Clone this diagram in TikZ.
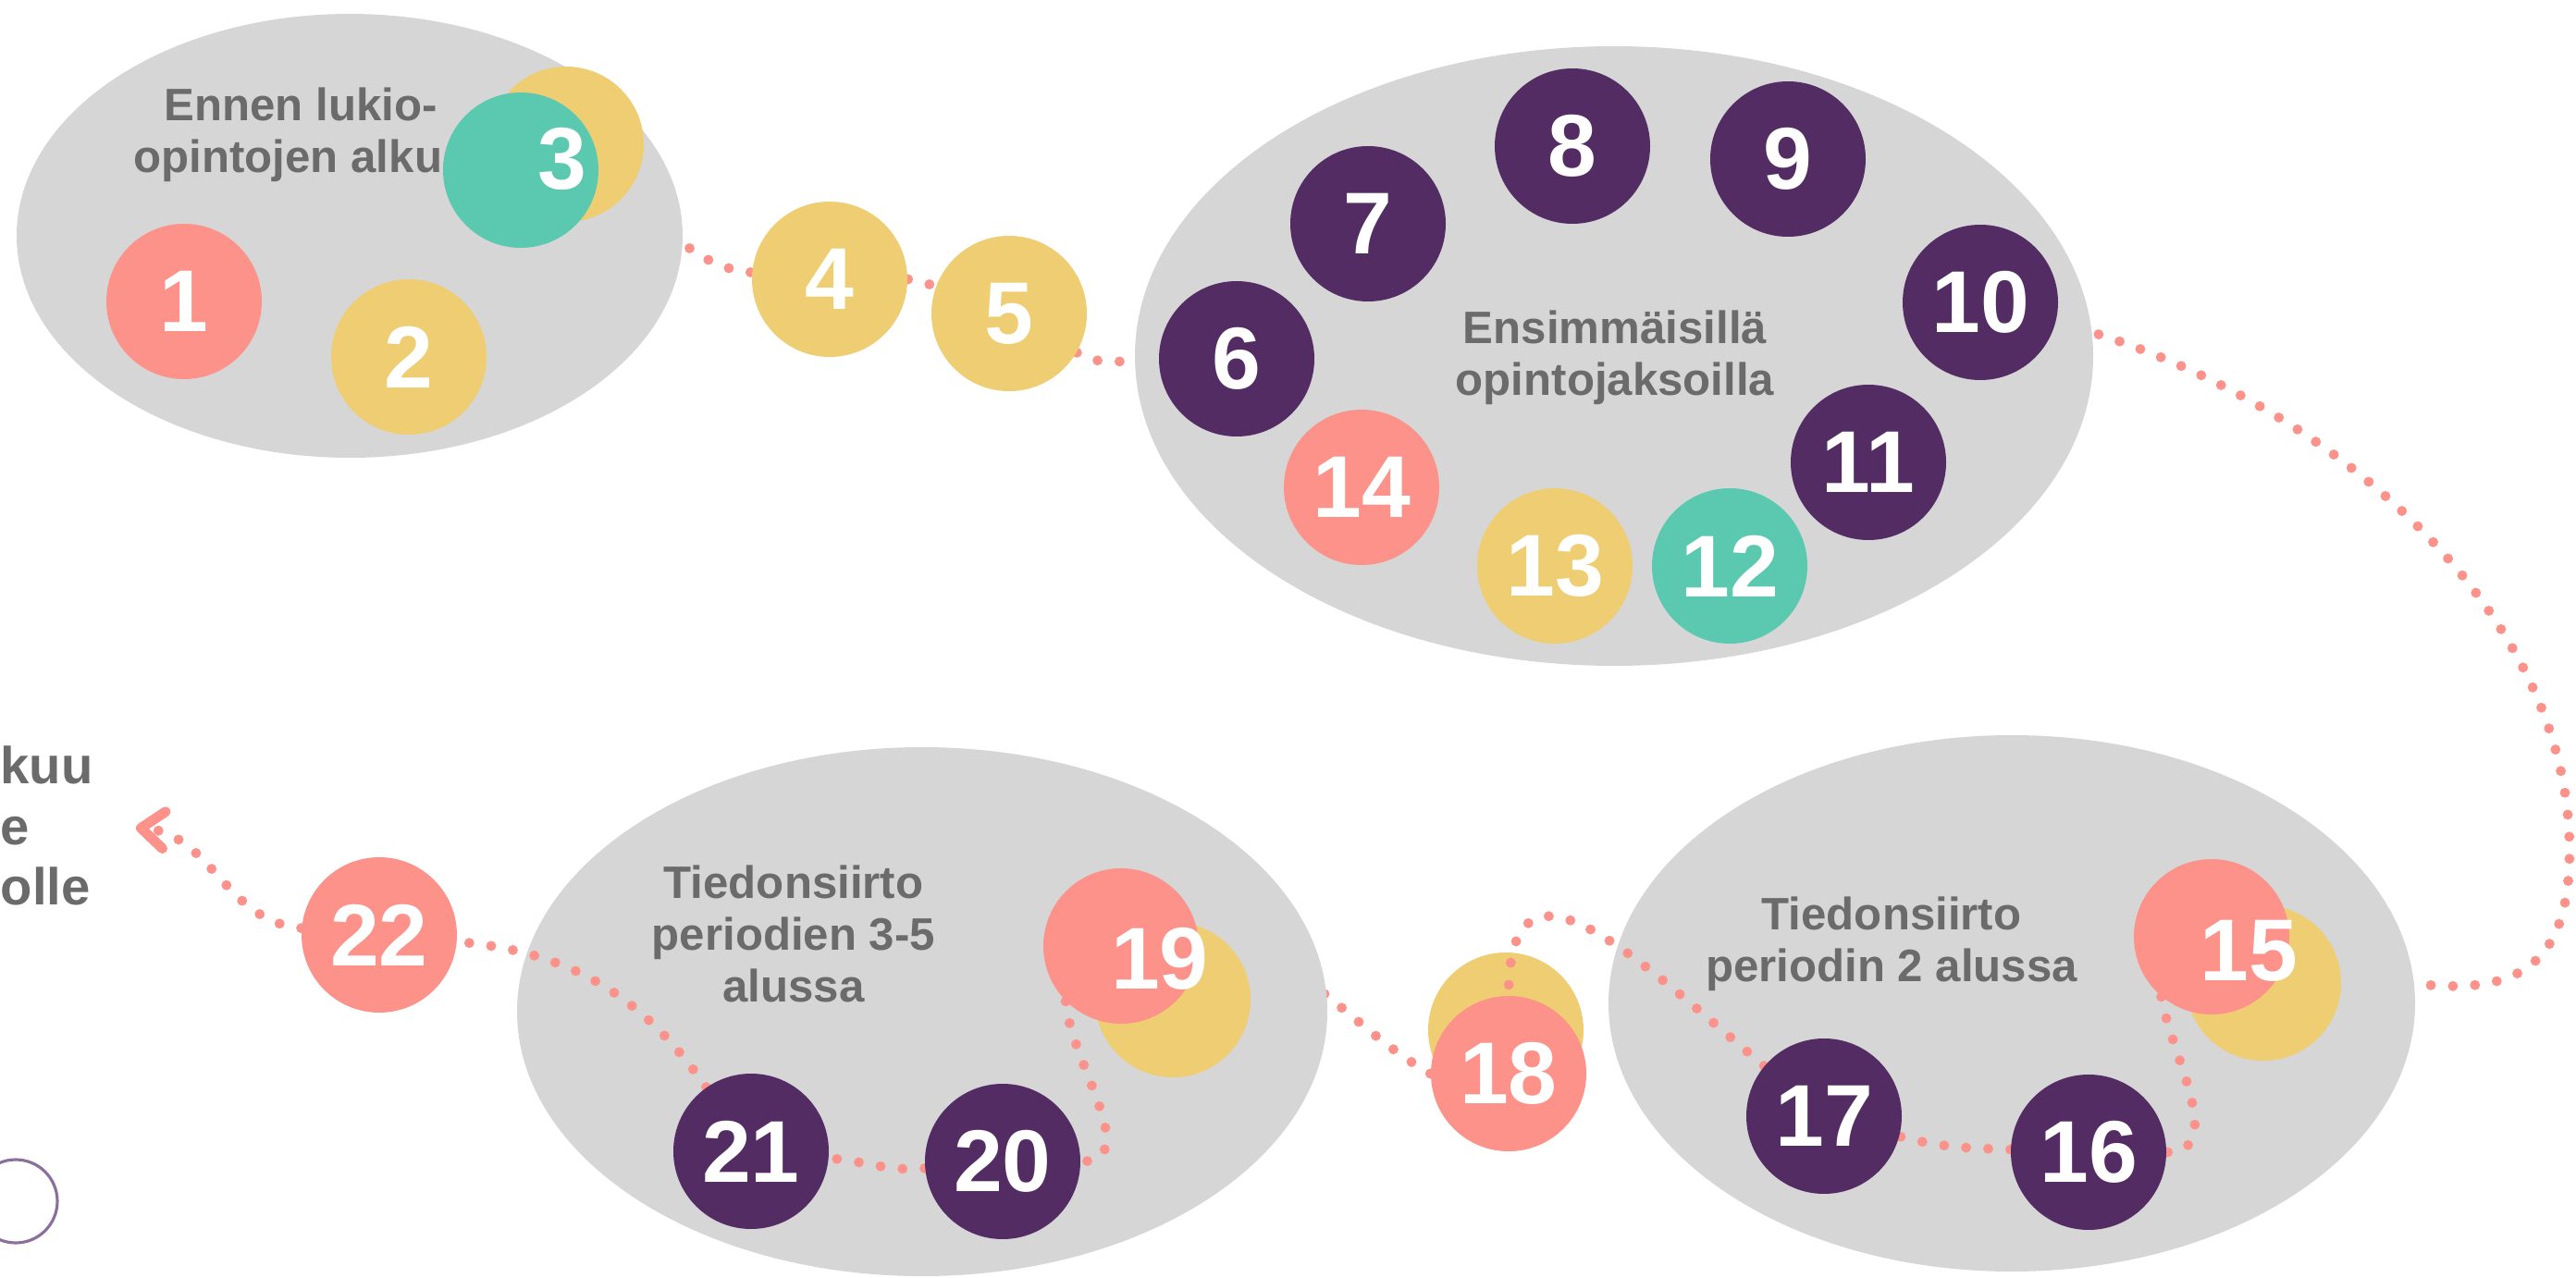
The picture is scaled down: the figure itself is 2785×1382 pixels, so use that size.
\documentclass[tikz,border=0pt]{standalone}
\usepackage{fontspec}
\setmainfont{Liberation Sans}
\usetikzlibrary{shapes.geometric, arrows.meta}

\definecolor{blobgrey}{HTML}{D6D6D6}
\definecolor{salmon}{HTML}{FD928B}
\definecolor{mustard}{HTML}{EFCD72}
\definecolor{mint}{HTML}{5BC9B0}
\definecolor{plum}{HTML}{522C63}
\definecolor{inkgrey}{HTML}{6B6B6B}
\definecolor{ringplum}{HTML}{8C709C}

\pgfdeclarelayer{track}
\pgfdeclarelayer{blobs}
\pgfdeclarelayer{inner}
\pgfsetlayers{track,blobs,inner,main}

\tikzset{
    ball/.style={circle, minimum size=1.68cm, inner sep=0pt},
    numeral/.style={text=white, font=\fontsize{27}{27}\selectfont\bfseries},
    blob/.style={ellipse, fill=blobgrey, inner sep=0pt},
    caption/.style={align=center, text=inkgrey, inner sep=0pt, font=\fontsize{14}{16}\selectfont\bfseries},
    trail/.style={draw=salmon, line width=3.1pt, line cap=round, dash pattern=on 0pt off 6.8pt},
}

\begin{document}
\begin{tikzpicture}[x=0.1mm, y=0.1mm]
    \useasboundingbox (0,0) rectangle (2785,-1382);

    % Grey areas, and the discs that sit half hidden behind others
    \begin{pgfonlayer}{blobs}
        \node[blob, minimum width=7.2cm, minimum height=4.8cm] (before) at (378,-255) {};
        \node[blob, minimum width=10.36cm, minimum height=6.7cm] (first) at (1745,-385) {};
        \node[blob, minimum width=8.72cm, minimum height=5.8cm] (period2) at (2175,-1085) {};
        \node[blob, minimum width=8.76cm, minimum height=5.72cm] (period35) at (997,-1094) {};
        \node[ball, fill=mustard] (y3) at (612,-156) {};
        \node[ball, fill=mustard] (y15) at (2447,-1063) {};
        \node[ball, fill=mustard] (y18) at (1628,-1114) {};
        \node[ball, fill=mustard] (y19) at (1268,-1081) {};
    \end{pgfonlayer}

    % Captions of the grey areas
    \begin{pgfonlayer}{inner}
        \node[caption] (cap1) at (325,-146) {Ennen lukio-\\opintojen alkua};
        \node[caption] (cap2) at (1746,-387) {Ensimmäisillä\\opintojaksoilla};
        \node[caption] (cap3) at (2045,-1021) {Tiedonsiirto\\periodin 2 alussa};
        \node[caption] (cap4) at (858,-1010) {Tiedonsiirto\\periodien 3-5\\alussa};
    \end{pgfonlayer}

    % TOP: before the studies and the first courses
    \node[ball, numeral, fill=salmon] (c1) at (199,-326) {1};
    \node[ball, numeral, fill=mustard] (c2) at (442,-386) {2};
    \node[ball, fill=mint] (c3) at (563,-184) {};
    \node[numeral] (n3) at (608,-172) {3};
    \node[ball, numeral, fill=mustard] (c4) at (897,-302) {4};
    \node[ball, numeral, fill=mustard] (c5) at (1091,-339) {5};
    \node[ball, numeral, fill=plum] (c6) at (1337,-388) {6};
    \node[ball, numeral, fill=plum] (c7) at (1479,-242) {7};
    \node[ball, numeral, fill=plum] (c8) at (1700,-158) {8};
    \node[ball, numeral, fill=plum] (c9) at (1933,-172) {9};
    \node[ball, numeral, fill=plum] (c10) at (2141,-327) {10};
    \node[ball, numeral, fill=plum] (c11) at (2020,-500) {11};
    \node[ball, numeral, fill=mint] (c12) at (1870,-612) {12};
    \node[ball, numeral, fill=mustard] (c13) at (1681,-612) {13};
    \node[ball, numeral, fill=salmon] (c14) at (1472,-527) {14};

    % BOTTOM: transfers of data
    \node[ball, fill=salmon] (c15) at (2391,-1013) {};
    \node[numeral] (n15) at (2431,-1028) {15};
    \node[ball, numeral, fill=plum] (c16) at (2258,-1246) {16};
    \node[ball, numeral, fill=plum] (c17) at (1972,-1207) {17};
    \node[ball, numeral, fill=salmon] (c18) at (1631,-1161) {18};
    \node[ball, fill=salmon] (c19) at (1212,-1023) {};
    \node[numeral] (n19) at (1254,-1037) {19};
    \node[ball, numeral, fill=plum] (c20) at (1084,-1256) {20};
    \node[ball, numeral, fill=plum] (c21) at (812,-1245) {21};
    \node[ball, numeral, fill=salmon] (c22) at (410,-1011) {22};

    % Left edge
    \node[anchor=north west, align=left, inner sep=0pt, text=inkgrey,
          font=\fontsize{16}{18.7}\selectfont\bfseries] (edge) at (0,-806) {kuu\\e\\olle};
    \node[circle, draw=ringplum, line width=0.9pt, minimum size=0.9cm, inner sep=0pt] (ring) at (17,-1299) {};

    \coordinate (swing) at (2778,-920);
    \coordinate (exit) at (147,-895);

    % Dotted trail, hidden where it runs under a grey area
    \begin{pgfonlayer}{track}
        \draw[trail] (c3) to[out=-15, in=175] (c4);
        \draw[trail] (c4) to[out=0, in=160] (c5);
        \draw[trail] (c5) to[out=-30, in=180] (c6);
        \draw[trail] (c10) .. controls (2500,-420) and (2778,-650) .. (swing)
                           .. controls (2778,-1085) and (2680,-1090) .. (c15);
        \draw[trail] (c18.west) to[out=150, in=0] (c19);
    \end{pgfonlayer}
    \begin{pgfonlayer}{inner}
        \draw[trail] (c15.-130) to[out=-80, in=0] (c16);
        \draw[trail] (c16) to[out=178, in=-15] (c17);
        \draw[trail] (c17) to[out=140, in=90, looseness=1.6] (c18);
        \draw[trail] (c19.-135) to[out=-85, in=0] (c20);
        \draw[trail] (c20) to[out=185, in=-5] (c21);
        \draw[trail] (c21) to[out=125, in=-5] (c22);
        \draw[trail, -{Straight Barb[length=2.5mm, width=4mm, round]}] (c22) to[out=175, in=-5] (exit);
    \end{pgfonlayer}
\end{tikzpicture}
\end{document}
